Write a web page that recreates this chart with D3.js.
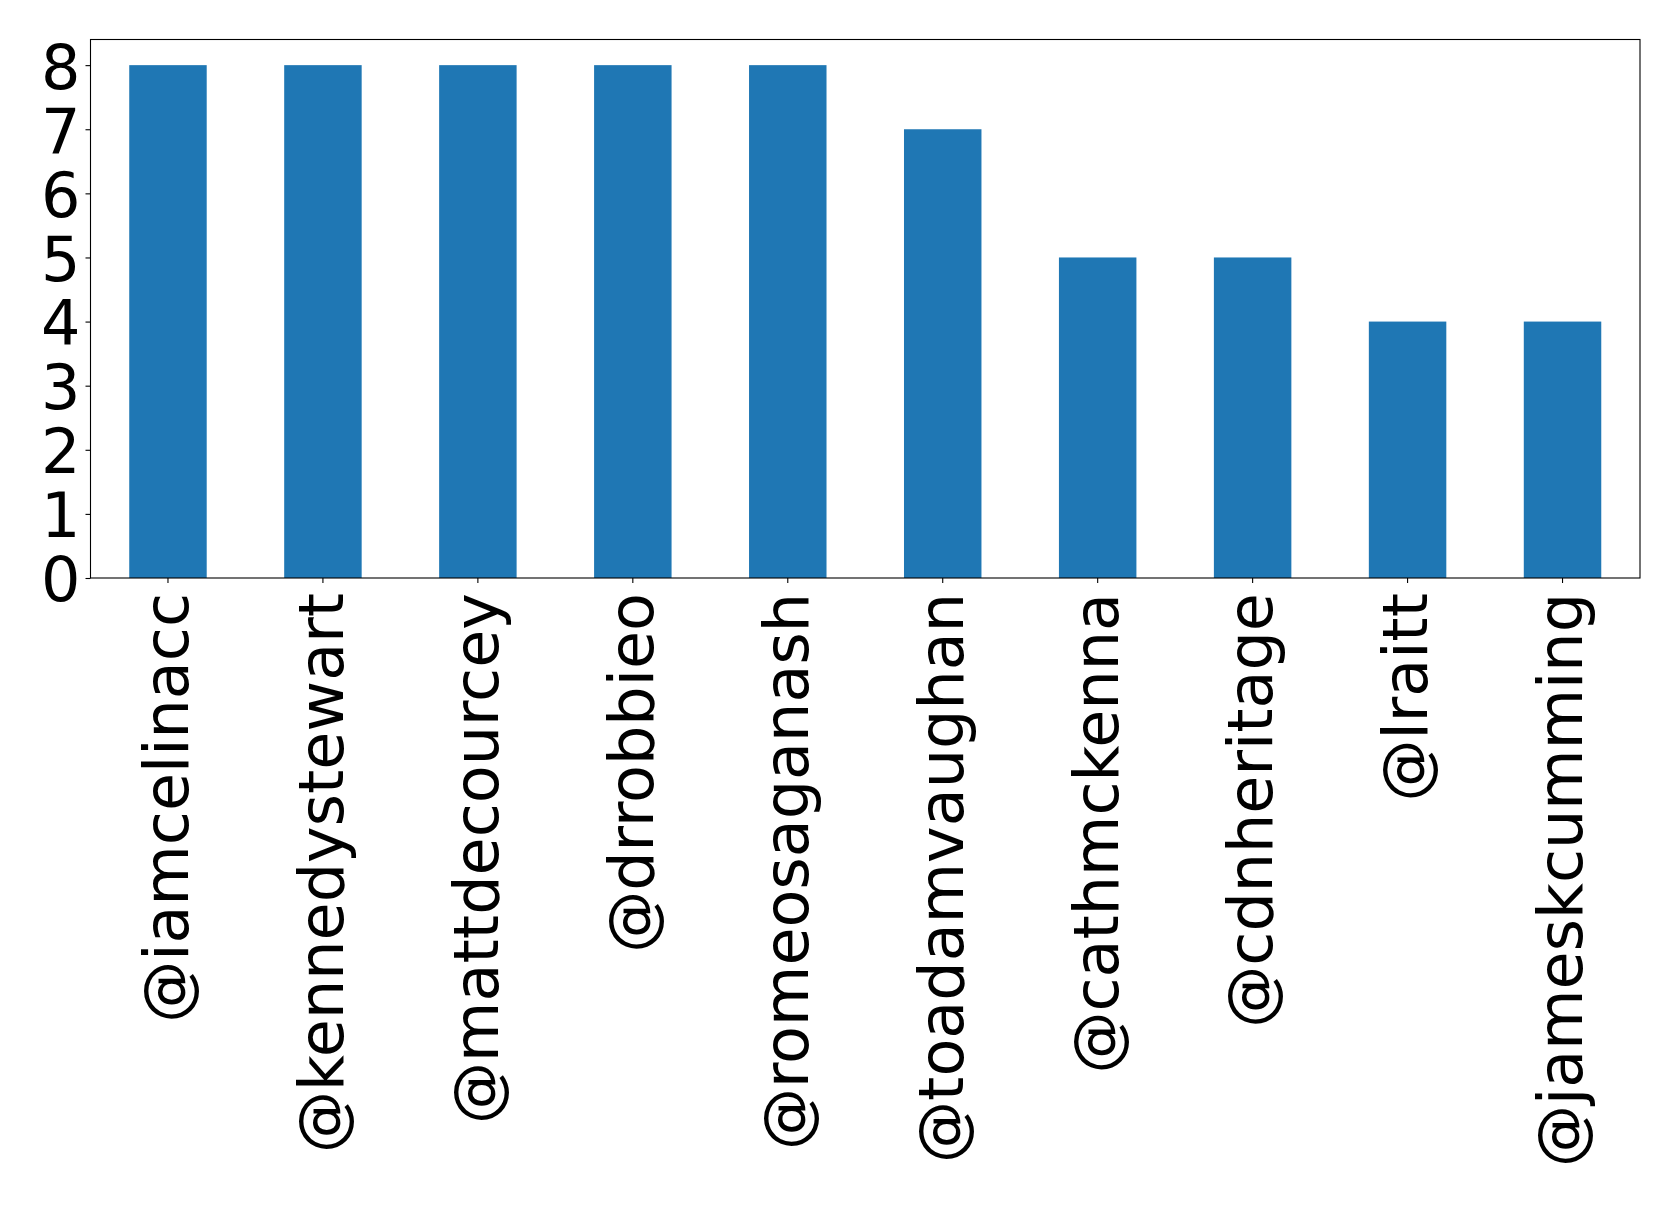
<!DOCTYPE html>
<html>
<head>
<meta charset="utf-8">
<script src="https://cdn.jsdelivr.net/npm/d3@7"></script>
<style>
  html, body { margin: 0; padding: 0; background: #fff; }
  svg { display: block; }
  text { font-family: "DejaVu Sans", sans-serif; }
</style>
</head>
<body>
<svg id="chart" width="1679" height="1206"></svg>
<script>
const categories = ["@iamcelinacc", "@kennedystewart", "@mattdecourcey", "@drrobbieo", "@romeosaganash",
                    "@toadamvaughan", "@cathmckenna", "@cdnheritage", "@lraitt", "@jameskcumming"];
const values = [8, 8, 8, 8, 8, 7, 5, 5, 4, 4];
const yTicks = [0, 1, 2, 3, 4, 5, 6, 7, 8];

const W = 1679, H = 1206;
const margin = { left: 90.5, top: 39.5, right: W - 1640, bottom: H - 578 };
const plotW = W - margin.left - margin.right;
const plotH = H - margin.top - margin.bottom;
const fontSize = 62;

const svg = d3.select("#chart");
const g = svg.append("g").attr("transform", `translate(${margin.left},${margin.top})`);

const x = d3.scaleBand().domain(categories).range([0, plotW]).paddingInner(0.5).paddingOuter(0.25);
const y = d3.scaleLinear().domain([0, 8.4]).range([plotH, 0]);

g.selectAll("rect.bar").data(categories).enter().append("rect")
  .attr("class", "bar")
  .attr("x", d => x(d))
  .attr("width", x.bandwidth())
  .attr("y", (d, i) => y(values[i]))
  .attr("height", (d, i) => y(0) - y(values[i]))
  .attr("fill", "#1f77b4");

// y axis
const yAxis = g.append("g").call(d3.axisLeft(y).tickValues(yTicks).tickFormat(d3.format("d")).tickSize(5).tickSizeOuter(0).tickPadding(5));
yAxis.select(".domain").remove();
yAxis.selectAll(".tick line").attr("stroke", "#000").attr("stroke-width", 1.1);
yAxis.selectAll(".tick text")
  .attr("font-size", fontSize).attr("fill", "#000")
  .attr("font-family", "DejaVu Sans")
  .attr("dy", "0.37em");

// x axis
const xAxis = g.append("g").attr("transform", `translate(0,${plotH})`)
  .call(d3.axisBottom(x).tickSize(5).tickSizeOuter(0));
xAxis.select(".domain").remove();
xAxis.selectAll(".tick line").attr("stroke", "#000").attr("stroke-width", 1.1);
xAxis.selectAll(".tick text")
  .attr("font-size", fontSize).attr("fill", "#000")
  .attr("font-family", "DejaVu Sans")
  .attr("transform", "rotate(-90)")
  .attr("text-anchor", "end")
  .attr("x", -15)
  .attr("y", 0)
  .attr("dy", "0.32em");

// frame
g.append("rect").attr("x", 0).attr("y", 0).attr("width", plotW).attr("height", plotH)
  .attr("fill", "none").attr("stroke", "#000").attr("stroke-width", 1.1);
</script>
</body>
</html>
